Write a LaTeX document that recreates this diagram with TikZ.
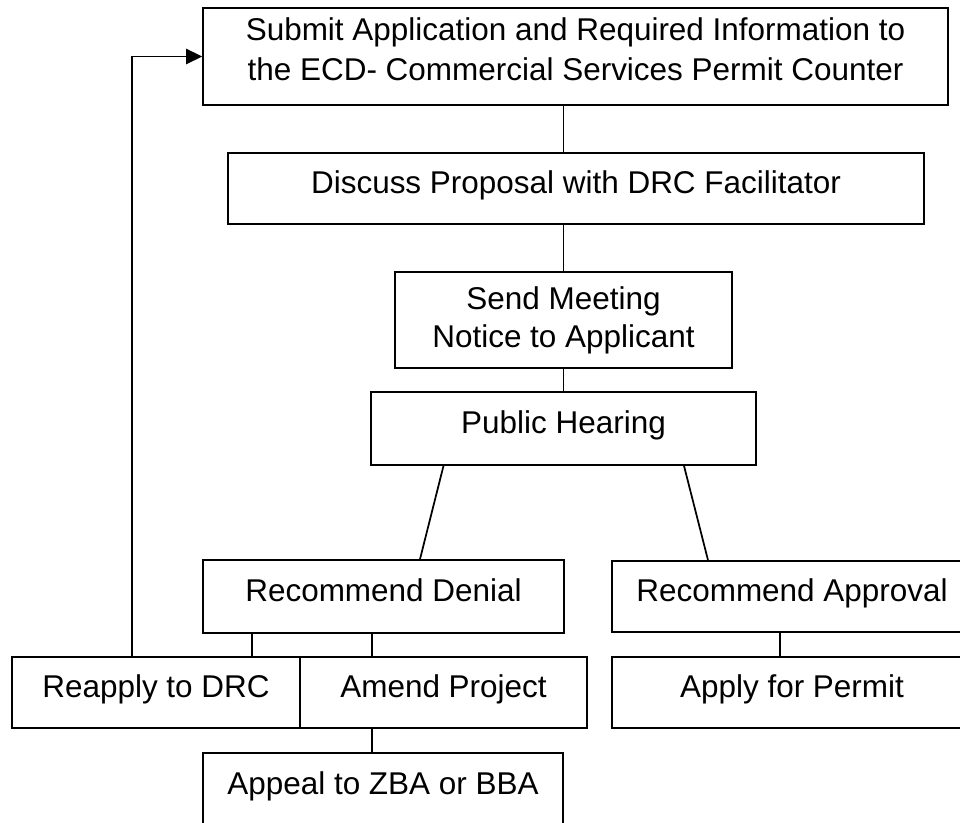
\documentclass[tikz,border=0pt]{standalone}
\usepackage{fontspec}
\setmainfont{Liberation Sans}
\usetikzlibrary{arrows.meta}

\begin{document}
\begin{tikzpicture}[
    x = 0.75pt,
    y = -0.75pt,
    %thick,
    line width = 1.3pt,
    box/.style = {draw, rectangle, inner sep=0pt, align=center,
                  font=\fontsize{23.6}{28.5}\selectfont},
    onebox/.style = {box, text height=17pt, text depth=10pt},
    feedback/.style = {-{Triangle[length=12pt, width=11.5pt]}}
  ]
  \useasboundingbox (0,0) rectangle (960,823);
  \clip (0,0) rectangle (960,823);

  % Steps
  \node[box, minimum width=745*0.75pt, minimum height=97*0.75pt] (submit) at (575.5,56.5)
    {Submit Application and Required Information to\\[1.5pt]the ECD- Commercial Services Permit Counter\rule[-11pt]{0pt}{11pt}};
  \node[onebox, minimum width=696*0.75pt, minimum height=71*0.75pt] (discuss) at (576,188.5)
    {Discuss Proposal with DRC Facilitator};
  \node[box, minimum width=337*0.75pt, minimum height=96*0.75pt] (notice) at (563.5,320)
    {Send Meeting\\Notice to Applicant};
  \node[onebox, minimum width=385*0.75pt, minimum height=73*0.75pt] (hearing) at (563.5,428.5)
    {Public Hearing};
  \node[onebox, minimum width=361*0.75pt, minimum height=73*0.75pt] (denial) at (383.5,596.5)
    {Recommend Denial};
  \node[onebox, minimum width=360*0.75pt, minimum height=71*0.75pt] (approval) at (792,596.5)
    {Recommend Approval};
  \node[onebox, minimum width=288*0.75pt, minimum height=71*0.75pt] (reapply) at (156,692.5)
    {Reapply to DRC};
  \node[onebox, minimum width=287*0.75pt, minimum height=71*0.75pt] (amend) at (443.5,692.5)
    {Amend Project};
  \node[onebox, minimum width=360*0.75pt, minimum height=71*0.75pt] (permit) at (792,692.5)
    {Apply for Permit};
  \node[onebox, minimum width=360*0.75pt, minimum height=73*0.75pt] (appeal) at (383,789.5)
    {Appeal to ZBA or BBA};

  % Connectors
  \draw (notice.north |- submit.south) -- (notice.north |- discuss.north);
  \draw (notice.north |- discuss.south) -- (notice.north);
  \draw (notice.south) -- (hearing.north);
  \draw ([xshift=-120*0.75pt]hearing.south) -- ([xshift=36.5*0.75pt]denial.north);
  \draw ([xshift=120.5*0.75pt]hearing.south) -- ([xshift=-84*0.75pt]approval.north);
  \draw ([xshift=-131.5*0.75pt]denial.south) -- ([xshift=-131.5*0.75pt]denial.south |- reapply.north);
  \draw ([xshift=-11.5*0.75pt]denial.south) -- ([xshift=-11.5*0.75pt]denial.south |- amend.north);
  \draw ([xshift=-71.5*0.75pt]amend.south) -- ([xshift=-71.5*0.75pt]amend.south |- appeal.north);
  \draw ([xshift=-12*0.75pt]approval.south) -- ([xshift=-12*0.75pt]approval.south |- permit.north);

  % Back to the start
  \draw[feedback] ([xshift=-24*0.75pt]reapply.north) |- (submit.west);
\end{tikzpicture}
\end{document}
